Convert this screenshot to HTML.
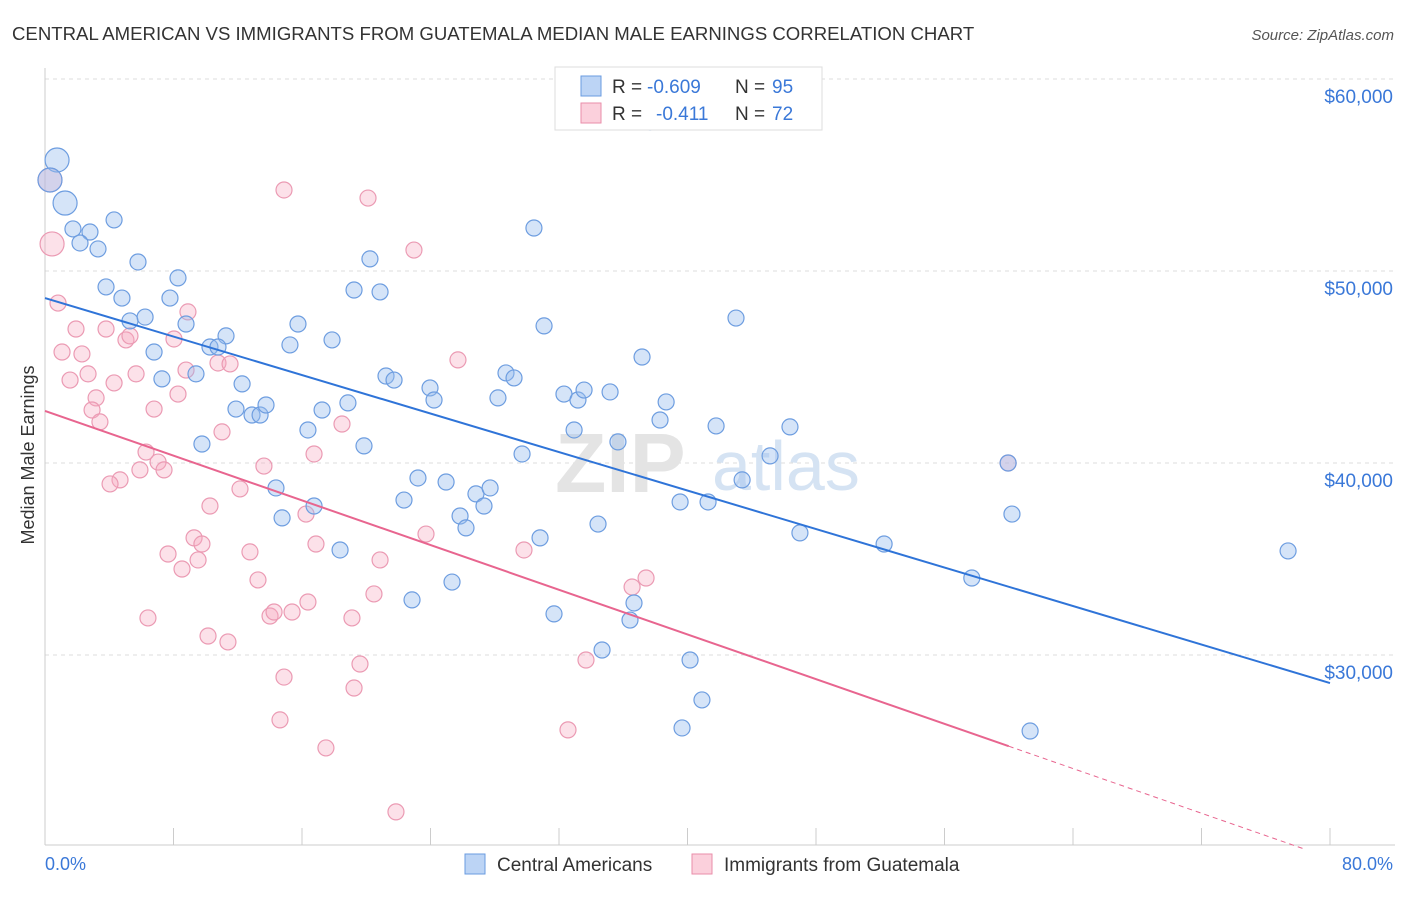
<!DOCTYPE html>
<html><head><meta charset="utf-8"><style>
body{margin:0;background:#fff;font-family:"Liberation Sans",sans-serif;}
svg text{font-family:"Liberation Sans",sans-serif;}
</style></head><body>
<svg id="chart" width="1406" height="892" xmlns="http://www.w3.org/2000/svg">
<text x="12" y="40" font-size="18.6" fill="#333">CENTRAL AMERICAN VS IMMIGRANTS FROM GUATEMALA MEDIAN MALE EARNINGS CORRELATION CHART</text>
<text x="1394" y="40" font-size="15" fill="#555" font-style="italic" text-anchor="end">Source: ZipAtlas.com</text>
<g id="grid"></g>
<text x="555" y="492" font-size="84" fill="#e4e4e4" font-family="Liberation Serif" font-weight="bold">ZIP</text>
<text x="712" y="490" font-size="70" fill="#d5e3f3">atlas</text>
<g id="marks"></g>
<text transform="translate(34,455) rotate(-90)" font-size="18" fill="#333" text-anchor="middle">Median Male Earnings</text>
<text x="45" y="870" font-size="18" fill="#3a78d8">0.0%</text>
<text x="1393" y="870" font-size="18" fill="#3a78d8" text-anchor="end">80.0%</text>
<g>
<rect x="555" y="67" width="267" height="63" fill="#fff" stroke="#ddd"/>
<rect x="581" y="76" width="20" height="20" fill="#bcd4f5" stroke="#6a9be0"/>
<rect x="581" y="103" width="20" height="20" fill="#fbd0dc" stroke="#ea8eaa"/>
<text x="612" y="93" font-size="19" fill="#333">R =</text>
<text x="647" y="93" font-size="19" fill="#3a78d8">-0.609</text>
<text x="735" y="93" font-size="19" fill="#333">N =</text>
<text x="772" y="93" font-size="19" fill="#3a78d8">95</text>
<text x="612" y="120" font-size="19" fill="#333">R =</text>
<text x="656" y="120" font-size="19" fill="#3a78d8">-0.411</text>
<text x="735" y="120" font-size="19" fill="#333">N =</text>
<text x="772" y="120" font-size="19" fill="#3a78d8">72</text>
</g>
<g>
<rect x="465" y="854" width="20" height="20" fill="#bcd4f5" stroke="#6a9be0"/>
<text x="497" y="871" font-size="19" fill="#333">Central Americans</text>
<rect x="692" y="854" width="20" height="20" fill="#fbd0dc" stroke="#ea8eaa"/>
<text x="724" y="871" font-size="19" fill="#333">Immigrants from Guatemala</text>
</g>
</svg>
<script>
const yTicks=[30000,40000,50000,60000];
const yTickLabels=["$30,000","$40,000","$50,000","$60,000"];
const xTicks=[0,8,16,24,32,40,48,56,64,72,80];
const blueX=[0.75,0.31,1.25,1.74,2.8,2.18,3.3,4.3,5.79,3.8,4.79,8.28,7.78,6.23,5.29,8.78,11.27,10.27,10.77,6.79,9.4,7.28,12.27,11.89,12.89,13.39,13.76,9.77,15.25,15.75,17.87,17.25,16.37,18.86,19.86,14.38,14.76,16.75,18.37,19.24,20.23,20.86,21.23,21.73,23.97,24.22,22.35,23.22,24.97,26.83,27.71,27.33,25.84,26.21,22.85,25.34,28.2,28.7,29.2,29.7,30.44,31.07,30.82,32.31,32.94,33.18,33.56,35.18,35.67,34.43,31.69,34.68,37.17,37.67,38.29,38.67,36.67,36.42,39.54,41.28,40.16,40.9,39.66,41.78,43.02,43.4,45.14,46.38,47.0,52.24,57.7,59.96,60.2,61.33,77.39];
const blueY=[55780,54740,53540,52190,52030,51460,51150,52660,50470,49170,48590,49640,48590,47600,47400,47240,46620,46040,46040,45780,44640,44380,44120,42810,42500,42500,43020,40990,46150,47240,46410,42760,41720,43130,40890,38700,37140,37760,35470,49010,50630,48910,44530,44320,43910,43280,38070,39220,39010,38390,38700,37760,37240,36620,32870,33800,43390,44690,44430,40470,52240,47140,36100,43590,41720,43280,43800,43700,41100,36820,32140,30260,45520,57760,42240,43180,32710,31820,37970,37970,29740,27660,26200,41930,47550,39120,40370,41880,36360,35780,34010,40000,37340,26040,35420];
const pinkX=[0.31,0.44,0.81,1.93,1.06,2.3,1.56,2.68,3.18,2.93,3.42,4.3,3.8,5.04,5.29,5.67,6.79,6.29,5.91,4.67,4.05,7.04,7.41,8.03,8.28,8.9,8.78,10.77,11.52,11.02,12.14,13.63,10.27,9.28,9.77,9.53,7.66,8.53,6.41,10.15,11.39,12.76,13.26,14.01,14.26,15.38,16.25,16.87,16.37,16.75,14.88,20.11,22.97,25.71,18.49,20.86,20.48,19.11,19.61,19.24,14.88,14.63,17.49,21.85,23.72,29.82,33.68,32.56,36.55,37.42,59.96];
const pinkY=[54740,51410,48330,46980,45780,45680,44320,44640,43390,42760,42140,44170,46980,46410,46620,44640,42810,40570,39640,39120,38910,40050,39640,46460,43590,47870,44840,45210,45160,41620,38650,39840,37760,36100,35780,34950,35260,34480,31930,30990,30680,35370,33910,32030,32240,32240,37340,35780,32760,40470,54220,53800,51090,45370,42030,34950,33180,31930,29530,28280,28850,26620,25160,21830,36300,35470,29740,26100,33540,34010,40000];
const bigBlue=[0,1,2];
const bigPink=[0,1];
const blueTrend=[48590,28540];
const pinkTrend=[42710,19430];
const pinkSolidEnd=60;

const X=v=>45+v/80*1285;
const Y=v=>79+(60000-v)/10000*192;
const NS="http://www.w3.org/2000/svg";
const grid=document.getElementById('grid'), marks=document.getElementById('marks');
function mk(tag,attrs,parent){const e=document.createElementNS(NS,tag);for(const k in attrs)e.setAttribute(k,attrs[k]);parent.appendChild(e);return e;}

yTicks.forEach((t,i)=>{
  const l=mk('line',{x1:45,x2:1395,y1:Y(t),y2:Y(t),stroke:'#ddd','stroke-dasharray':'4,4'},grid);
  
  
  const tx=mk('text',{x:1393,y:Y(t)+24,'font-size':19,fill:'#3a78d8','text-anchor':'end'},grid);
  tx.textContent=yTickLabels[i];
  
  
});
const ax=mk('line',{x1:45,x2:45,y1:68,y2:845,stroke:'#ccc'},grid);


const bx=mk('line',{x1:45,x2:1395,y1:845,y2:845,stroke:'#ccc'},grid);


xTicks.forEach(t=>{
  const l=mk('line',{x1:X(t),x2:X(t),y1:828,y2:845,stroke:'#ccc'},grid);
  
  
});

pinkX.forEach((x,i)=>{
  const r=bigPink.includes(i)?12:8;
  const c=mk('circle',{cx:X(x),cy:Y(pinkY[i]),r:r,fill:'rgba(246,168,192,0.35)',stroke:'#eb9ab3','stroke-width':1.2},marks);
  
  
});
blueX.forEach((x,i)=>{
  const r=bigBlue.includes(i)?12:8;
  const c=mk('circle',{cx:X(x),cy:Y(blueY[i]),r:r,fill:'rgba(150,188,238,0.4)',stroke:'#6d9de0','stroke-width':1.2},marks);
  
  
});
const bt=mk('line',{x1:X(0),y1:Y(blueTrend[0]),x2:X(80),y2:Y(blueTrend[1]),stroke:'#2f74d8','stroke-width':2},marks);


const pAt=v=>pinkTrend[0]+(pinkTrend[1]-pinkTrend[0])*v/80;
const pt=mk('line',{x1:X(0),y1:Y(pinkTrend[0]),x2:X(pinkSolidEnd),y2:Y(pAt(pinkSolidEnd)),stroke:'#e8658f','stroke-width':2},marks);


const pd=mk('line',{x1:X(pinkSolidEnd),y1:Y(pAt(pinkSolidEnd)),x2:X(78.3),y2:Y(pAt(78.3)),stroke:'#e8658f','stroke-width':1,'stroke-dasharray':'5,4'},marks);


</script>
</body></html>
